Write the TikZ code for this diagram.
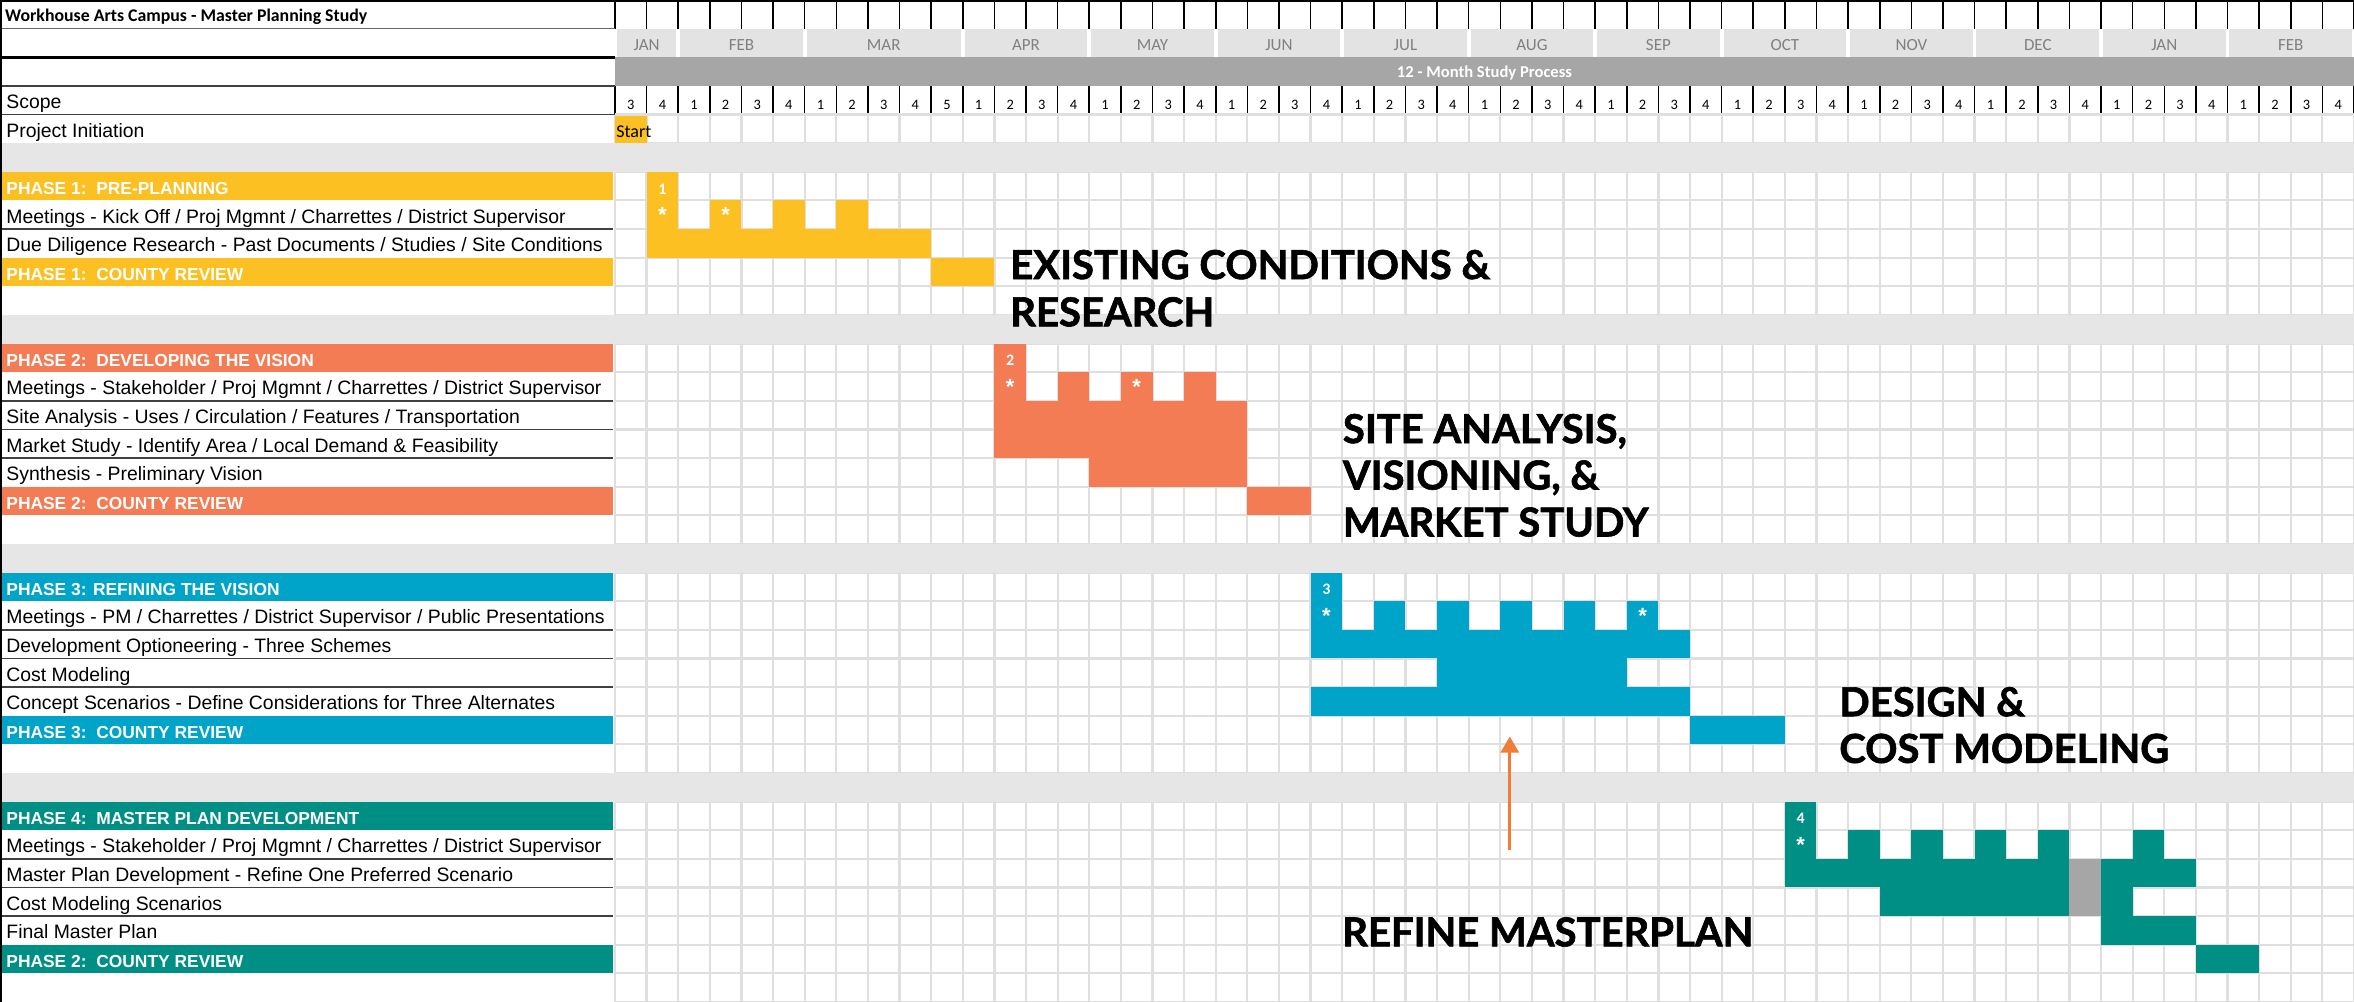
\documentclass[tikz,border=0pt]{standalone}
\usepackage{fontspec}
\setmainfont{Liberation Sans}
\newfontfamily\calfont{Carlito}
\newfontfamily\capfont{Lato}[BoldFeatures={FakeBold=1.5}]
\usepackage{tikz}
\usetikzlibrary{arrows.meta}
\definecolor{phyel}{HTML}{FCC023}
\definecolor{phora}{HTML}{F47C55}
\definecolor{phblu}{HTML}{00A4C8}
\definecolor{phtea}{HTML}{008F85}
\definecolor{gridgr}{HTML}{DFDFDF}
\definecolor{bandgr}{HTML}{E6E6E6}
\definecolor{monthgr}{HTML}{E3E3E3}
\definecolor{darkgr}{HTML}{A6A6A6}
\definecolor{arrora}{HTML}{EF7D35}
\tikzset{
  tasklab/.style={anchor=west,font={\fontsize{9.7pt}{11pt}\selectfont},text height=7pt,text depth=2pt},
  phaselab/.style={anchor=west,text=white,font={\fontsize{8.7pt}{10pt}\selectfont\bfseries},text height=6.5pt,text depth=1.5pt},
  monthlab/.style={text=gray,font={\calfont\fontsize{8.5pt}{10pt}\selectfont}},
  weeklab/.style={font={\calfont\fontsize{7.2pt}{9pt}\selectfont}},
  biglab/.style={anchor=base west,font={\capfont\bfseries\fontsize{20pt}{23pt}\selectfont}},
  cellmark/.style={text=white,font={\calfont\bfseries\fontsize{8pt}{9pt}\selectfont}},
  astmark/.style={text=white,font={\bfseries\fontsize{11pt}{12pt}\selectfont}},
  gridline/.style={gridgr,line width=1.1pt},
  hdrline/.style={black,line width=0.8pt},
  labline/.style={black!75,line width=0.8pt},
  refarrow/.style={arrora,line width=1.4pt,-{Triangle[length=8pt,width=9pt]}}
}
\begin{document}
\begin{tikzpicture}[x=15.81pt,y=-14.314pt]
\tikzstyle{every node}+=[inner sep=0pt]
\useasboundingbox (-19.45,0) rectangle (55,35);
\fill[white] (-19.45,0) rectangle (55,35);
\foreach \i in {0,...,55} \draw[gridline] (\i,4) -- (\i,35);
\foreach \r in {4,...,35} \draw[gridline] (0,\r) -- (55,\r);
\foreach \r in {5,11,19,27} \fill[bandgr] (-19.45,\r) rectangle (55,\r+1);
\fill[phyel] (0,4) rectangle (1,5);
\fill[phyel] (1,6) rectangle (2,7);
\foreach \c in {1,3,5,7} \fill[phyel] (\c,7) rectangle +(1,1);
\fill[phyel] (1,8) rectangle (10,9);
\fill[phyel] (10,9) rectangle (12,10);
\fill[phora] (12,12) rectangle (13,13);
\foreach \c in {12,14,16,18} \fill[phora] (\c,13) rectangle +(1,1);
\fill[phora] (12,14) rectangle (20,16);
\fill[phora] (15,16) rectangle (20,17);
\fill[phora] (20,17) rectangle (22,18);
\fill[phblu] (22,20) rectangle (23,21);
\foreach \c in {22,24,26,28,30,32} \fill[phblu] (\c,21) rectangle +(1,1);
\fill[phblu] (22,22) rectangle (34,23);
\fill[phblu] (26,23) rectangle (32,24);
\fill[phblu] (22,24) rectangle (34,25);
\fill[phblu] (34,25) rectangle (37,26);
\fill[phtea] (37,28) rectangle (38,29);
\foreach \c in {37,39,41,43,45,48} \fill[phtea] (\c,29) rectangle +(1,1);
\fill[phtea] (37,30) rectangle (46,31);
\fill[phtea] (40,31) rectangle (46,32);
\fill[darkgr] (46,30) rectangle (47,32);
\fill[phtea] (47,30) rectangle (50,31);
\fill[phtea] (47,31) rectangle (48,32);
\fill[phtea] (47,32) rectangle (50,33);
\fill[phtea] (50,33) rectangle (52,34);
\fill[phyel] (-19.45,6) rectangle (-0.05,7);
\fill[phyel] (-19.45,9) rectangle (-0.05,10);
\fill[phora] (-19.45,12) rectangle (-0.05,13);
\fill[phora] (-19.45,17) rectangle (-0.05,18);
\fill[phblu] (-19.45,20) rectangle (-0.05,21);
\fill[phblu] (-19.45,25) rectangle (-0.05,26);
\fill[phtea] (-19.45,28) rectangle (-0.05,29);
\fill[phtea] (-19.45,33) rectangle (-0.05,34);
\foreach \r in {8,14,15,16,22,23,24,30,31,32} \draw[labline] (-19.45,\r) -- (-0.05,\r);
\foreach \a/\b/\m [count=\k] in {0/2/JAN,2/6/FEB,6/11/MAR,11/15/APR,15/19/MAY,19/23/JUN,23/27/JUL,27/31/AUG,31/35/SEP,35/39/OCT,39/43/NOV,43/47/DEC,47/51/JAN,51/55/FEB}
{
\fill[monthgr] (\a+0.06,1) rectangle (\b-0.06,2);
\node[monthlab] (mon\k) at ({(\a+\b)/2},1.58) {\m};
}
\fill[darkgr] (0,2) rectangle (55,3);
\node[text=white,font={\calfont\bfseries\fontsize{8.3pt}{9pt}\selectfont}] (studyband) at (27.5,2.56) {12 - Month Study Process};
\foreach \i in {0,...,55} {
\draw[hdrline] (\i,0) -- (\i,1);
\draw[hdrline] (\i,3) -- (\i,4);
}
\draw[gridline] (0,4) -- (55,4);
\draw[black!60,line width=0.8pt] (-19.45,1) -- (0,1);
\draw[black,line width=1.4pt] (-19.45,2) -- (0,2);
\draw[labline] (-19.45,3) -- (0,3);
\draw[labline] (-19.45,4) -- (0,4);
\draw[black,line width=2pt] (-19.45,0) -- (55,0);
\draw[black,line width=1.6pt] (-19.45,0) -- (-19.45,35);
\foreach \w [count=\i from 0] in {3,4,1,2,3,4,1,2,3,4,5,1,2,3,4,1,2,3,4,1,2,3,4,1,2,3,4,1,2,3,4,1,2,3,4,1,2,3,4,1,2,3,4,1,2,3,4,1,2,3,4,1,2,3,4}
\node[weeklab] (wk\i) at (\i+0.5,3.65) {\w};
\node[anchor=west,font={\calfont\bfseries\fontsize{8.9pt}{10pt}\selectfont}] (title) at (-19.3,0.6) {Workhouse Arts Campus - Master Planning Study};
\node[tasklab] (scope) at (-19.26,3.62) {Scope};
\node[tasklab] (init) at (-19.26,4.62) {Project Initiation};
\node[anchor=west,font={\calfont\fontsize{9pt}{10pt}\selectfont}] (start) at (0.03,4.6) {Start};
\node[phaselab] (p1) at (-19.26,6.62) {PHASE 1:\ \ PRE-PLANNING};
\node[tasklab] (t7) at (-19.26,7.62) {Meetings - Kick Off / Proj Mgmnt / Charrettes / District Supervisor};
\node[tasklab] (t8) at (-19.26,8.62) {Due Diligence Research - Past Documents / Studies / Site Conditions};
\node[phaselab] (p1r) at (-19.26,9.62) {PHASE 1:\ \ COUNTY REVIEW};
\node[phaselab] (p2) at (-19.26,12.62) {PHASE 2:\ \ DEVELOPING THE VISION};
\node[tasklab] (t13) at (-19.26,13.62) {Meetings - Stakeholder / Proj Mgmnt / Charrettes / District Supervisor};
\node[tasklab] (t14) at (-19.26,14.62) {Site Analysis - Uses / Circulation / Features / Transportation};
\node[tasklab] (t15) at (-19.26,15.62) {Market Study - Identify Area / Local Demand \& Feasibility};
\node[tasklab] (t16) at (-19.26,16.62) {Synthesis - Preliminary Vision};
\node[phaselab] (p2r) at (-19.26,17.62) {PHASE 2:\ \ COUNTY REVIEW};
\node[phaselab] (p3) at (-19.26,20.62) {PHASE 3: REFINING THE VISION};
\node[tasklab] (t21) at (-19.26,21.62) {Meetings - PM / Charrettes / District Supervisor / Public Presentations};
\node[tasklab] (t22) at (-19.26,22.62) {Development Optioneering - Three Schemes};
\node[tasklab] (t23) at (-19.26,23.62) {Cost Modeling};
\node[tasklab] (t24) at (-19.26,24.62) {Concept Scenarios - Define Considerations for Three Alternates};
\node[phaselab] (p3r) at (-19.26,25.62) {PHASE 3:\ \ COUNTY REVIEW};
\node[phaselab] (p4) at (-19.26,28.62) {PHASE 4:\ \ MASTER PLAN DEVELOPMENT};
\node[tasklab] (t29) at (-19.26,29.62) {Meetings - Stakeholder / Proj Mgmnt / Charrettes / District Supervisor};
\node[tasklab] (t30) at (-19.26,30.62) {Master Plan Development - Refine One Preferred Scenario};
\node[tasklab] (t31) at (-19.26,31.62) {Cost Modeling Scenarios};
\node[tasklab] (t32) at (-19.26,32.62) {Final Master Plan};
\node[phaselab] (p4r) at (-19.26,33.62) {PHASE 2:\ \ COUNTY REVIEW};
\node[cellmark] (n1) at (1.5,6.6) {1};
\node[cellmark] (n2) at (12.5,12.6) {2};
\node[cellmark] (n3) at (22.5,20.6) {3};
\node[cellmark] (n4) at (37.5,28.6) {4};
\foreach \c/\r [count=\k] in {1/7,3/7,12/13,16/13,22/21,32/21,37/29}
\node[astmark] (ast\k) at (\c+0.5,\r+0.5) {*};
\node[biglab] (capa1) at (12.49,9.75) {EXISTING CONDITIONS \&};
\node[biglab] (capa2) at (12.49,11.4) {RESEARCH};
\node[biglab] (capb1) at (23.01,15.48) {SITE ANALYSIS,};
\node[biglab] (capb2) at (23.01,17.1) {VISIONING, \&};
\node[biglab] (capb3) at (23.01,18.74) {MARKET STUDY};
\node[biglab] (capc1) at (38.71,25.02) {DESIGN \&};
\node[biglab] (capc2) at (38.71,26.65) {COST MODELING};
\node[biglab] (capd) at (22.99,33.06) {REFINE MASTERPLAN};
\coordinate (arrfoot) at (28.3,29.69);
\coordinate (arrtip) at (28.3,25.73);
\draw[refarrow] (arrfoot) -- (arrtip);
\end{tikzpicture}
\end{document}
